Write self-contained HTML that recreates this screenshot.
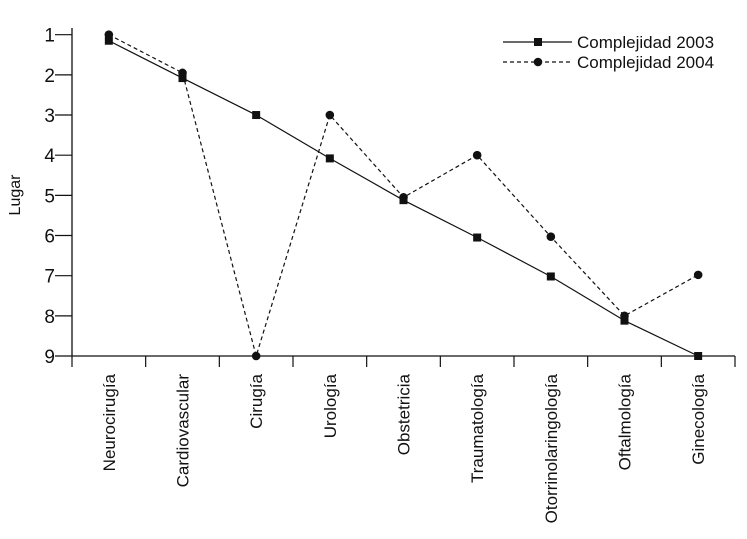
<!DOCTYPE html>
<html><head><meta charset="utf-8"><style>
body{margin:0;background:#fff;}
svg text{font-family:"Liberation Sans",sans-serif;fill:#111;}
</style></head><body>
<svg id="chart" width="747" height="534" xmlns="http://www.w3.org/2000/svg"></svg>
<script>
const categories=["Neurocirugía","Cardiovascular","Cirugía","Urología","Obstetricia","Traumatología","Otorrinolaringología","Oftalmología","Ginecología"];
const values2003=[1.15,2.08,3,4.08,5.12,6.05,7.02,8.12,9];
const values2004=[1,1.95,9,3,5.05,4,6.03,8,6.98];
const yTicks=[1,2,3,4,5,6,7,8,9];
const NS="http://www.w3.org/2000/svg";
const svg=document.getElementById('chart');
const x0=72,x1=735,yTop=34.7,yBot=356;
const bw=(x1-x0)/categories.length;
const xS=i=>x0+bw*(i+0.5);
const yS=v=>yTop+(v-1)*(yBot-yTop)/8;
function mk(t,a){const e=document.createElementNS(NS,t);for(const k in a)e.setAttribute(k,a[k]);svg.appendChild(e);return e;}
let e;
e=mk('line',{x1:x0,y1:28,x2:x0,y2:yBot,stroke:'#111','stroke-width':1.3});


e=mk('line',{x1:x0,y1:yBot,x2:x1,y2:yBot,stroke:'#111','stroke-width':1.3});


yTicks.forEach(v=>{
  e=mk('line',{x1:x0-17,y1:yS(v),x2:x0,y2:yS(v),stroke:'#111','stroke-width':1.2});
  
  
  e=mk('text',{x:55,y:yS(v)+7,'font-size':19,'text-anchor':'end'});e.textContent=v;
  
  
});
e=mk('text',{x:0,y:0,'font-size':16,'text-anchor':'middle',transform:'translate(20,195) rotate(-90)'});e.textContent='Lugar';


for(let i=0;i<=categories.length;i++){
  e=mk('line',{x1:x0+bw*i,y1:yBot,x2:x0+bw*i,y2:367,stroke:'#111','stroke-width':1.2});
  
  
}
categories.forEach((c,i)=>{
  e=mk('text',{x:0,y:0,'font-size':17,'text-anchor':'end',transform:`translate(${xS(i)+6},374) rotate(-90)`});e.textContent=c;
  
  
});
function series(vals,dash,shape,name){
  const pts=vals.map((v,i)=>xS(i)+','+yS(v)).join(' ');
  e=mk('polyline',{points:pts,fill:'none',stroke:'#111','stroke-width':1.2,'stroke-dasharray':dash});
  
  
  vals.forEach((v,i)=>{
    if(shape==='sq')e=mk('rect',{x:xS(i)-4,y:yS(v)-4,width:8,height:8,fill:'#111'});
    else e=mk('circle',{cx:xS(i),cy:yS(v),r:4.3,fill:'#111'});
    
    
  });
}
series(values2003,'none','sq','series-2003');
series(values2004,'4,3','ci','series-2004');
e=mk('line',{x1:503,y1:42,x2:572,y2:42,stroke:'#111','stroke-width':1.2});


e=mk('rect',{x:534,y:38,width:8,height:8,fill:'#111'});


e=mk('text',{x:577,y:48,'font-size':17});e.textContent='Complejidad 2003';


e=mk('line',{x1:503,y1:62,x2:572,y2:62,stroke:'#111','stroke-width':1.2,'stroke-dasharray':'4,3'});


e=mk('circle',{cx:538,cy:62,r:4.3,fill:'#111'});


e=mk('text',{x:577,y:68,'font-size':17});e.textContent='Complejidad 2004';


</script>
</body></html>
